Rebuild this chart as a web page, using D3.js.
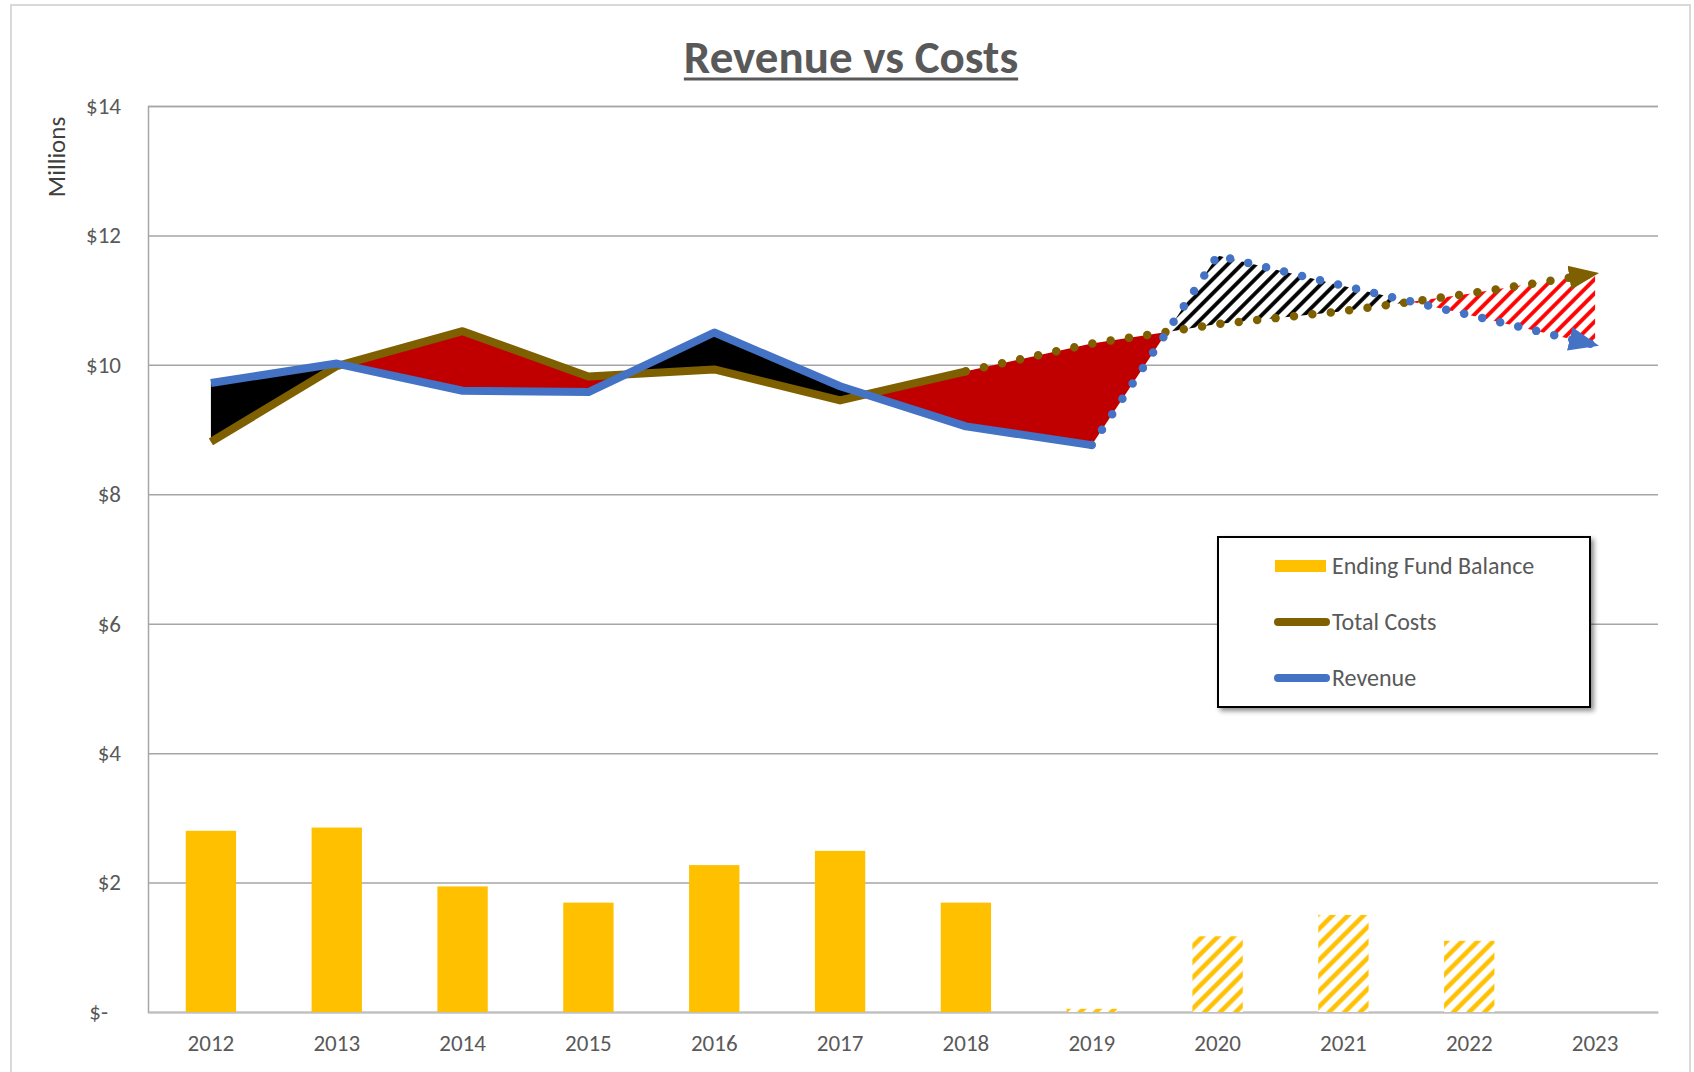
<!DOCTYPE html>
<html>
<head>
<meta charset="utf-8">
<script src="https://cdn.jsdelivr.net/npm/d3@7"></script>
<style>
  body { margin: 0; background: #fff; }
  text { font-family: Carlito, Lato, sans-serif; }
</style>
</head>
<body>
<script>
// values (millions of $)
var years = ["2012", "2013", "2014", "2015", "2016", "2017", "2018", "2019", "2020", "2021", "2022", "2023"];
var fundBalance = [2.80, 2.85, 1.94, 1.69, 2.27, 2.49, 1.69, 0.05, 1.17, 1.50, 1.10, 0];
var totalCosts = [8.81, 9.98, 10.52, 9.82, 9.93, 9.45, 9.90, 10.33, 10.63, 10.83, 11.10, 11.41];
var revenue = [9.72, 10.02, 9.60, 9.58, 10.50, 9.67, 9.05, 8.76, 11.69, 11.22, 10.77, 10.31];
var yTicks = [0, 2, 4, 6, 8, 10, 12, 14];
var lastActualCost = "2018";      // costs dotted (projected) after this
var lastActualRevenue = "2019";   // revenue dotted after this
var lastActualBalance = "2018";   // hatched bars after this

var W = 1694, H = 1072;
var plotL = 148, plotR = 1658, plotT = 106, plotB = 1012;

var svg = d3.select("body").append("svg")
    .attr("width", W)
    .attr("height", H);

var defs = svg.append("defs");

function hatch(id, color, size, sw) {
    var p = defs.append("pattern")
        .attr("id", id)
        .attr("patternUnits", "userSpaceOnUse")
        .attr("width", size)
        .attr("height", size)
        .attr("patternTransform", "rotate(45)");
    p.append("rect").attr("width", size).attr("height", size).attr("fill", "#fff");
    p.append("line")
        .attr("x1", size / 2).attr("x2", size / 2)
        .attr("y1", 0).attr("y2", size)
        .attr("stroke", color)
        .attr("stroke-width", sw);
}
hatch("hatchYellow", "#FFC000", 11, 4.5);
hatch("hatchBlack", "#000", 10, 3.8);
hatch("hatchRed", "#FF0000", 10, 3.8);

function arrow(id, color) {
    defs.append("marker")
        .attr("id", id)
        .attr("markerUnits", "userSpaceOnUse")
        .attr("markerWidth", 32)
        .attr("markerHeight", 26)
        .attr("refX", 26)
        .attr("refY", 13)
        .attr("orient", "auto")
        .append("path")
        .attr("d", "M0,1 L30,13 L0,25 Z")
        .attr("fill", color);
}
arrow("arrowCost", "#7F6000");
arrow("arrowRev", "#4472C4");

var shadow = defs.append("filter").attr("id", "shadow")
    .attr("x", "-10%").attr("y", "-10%").attr("width", "130%").attr("height", "130%");
shadow.append("feDropShadow")
    .attr("dx", 3).attr("dy", 3).attr("stdDeviation", 2.5)
    .attr("flood-color", "#000").attr("flood-opacity", 0.45);

// chart frame
svg.append("rect")
    .attr("x", 11).attr("y", 5)
    .attr("width", W - 15).attr("height", H)
    .attr("fill", "#fff")
    .attr("stroke", "#D9D9D9")
    .attr("stroke-width", 2);

var x = d3.scaleBand().domain(years).range([plotL, plotR]).padding(0);
var bw = x.bandwidth();
var xi = d3.scaleLinear().domain([0, years.length - 1])
    .range([x(years[0]) + bw / 2, x(years[years.length - 1]) + bw / 2]);
var y = d3.scaleLinear().domain([0, 14]).range([plotB, plotT]);

// y axis + gridlines
var yAxis = svg.append("g")
    .attr("transform", "translate(" + plotL + ",0)")
    .call(d3.axisLeft(y)
        .tickValues(yTicks)
        .tickSize(-(plotR - plotL))
        .tickPadding(27)
        .tickFormat(function(d) { return d === 0 ? "$-" : "$" + d; }));
yAxis.select(".domain").attr("stroke", "#A6A6A6").attr("stroke-width", 1.5);
yAxis.selectAll(".tick line").attr("stroke", "#A6A6A6").attr("stroke-width", 1.5);
yAxis.selectAll(".tick text")
    .attr("fill", "#595959")
    .style("font-size", "23px")
    .attr("dx", function(d) { return d === 0 ? -13 : 0; });

// x axis
var xAxis = svg.append("g")
    .attr("transform", "translate(0," + plotB + ")")
    .call(d3.axisBottom(x).tickSize(0).tickPadding(23));
xAxis.select(".domain").attr("stroke", "#BFBFBF").attr("stroke-width", 1.5);
xAxis.selectAll(".tick text")
    .attr("fill", "#595959")
    .style("font-size", "23px");

svg.append("text")
    .attr("transform", "translate(65,157) rotate(-90)")
    .attr("text-anchor", "middle")
    .attr("fill", "#404040")
    .style("font-size", "25px")
    .text("Millions");

// bars
var balIdx = years.indexOf(lastActualBalance);
svg.append("g").selectAll("rect")
    .data(fundBalance)
    .enter()
    .append("rect")
    .attr("x", function(d, i) { return x(years[i]) + bw * 0.3; })
    .attr("width", bw * 0.4)
    .attr("y", function(d) { return y(d); })
    .attr("height", function(d) { return y(0) - y(d); })
    .attr("fill", function(d, i) { return i > balIdx ? "url(#hatchYellow)" : "#FFC000"; });

// fills between revenue and costs, split where they cross
var polys = [];
var cur = {sign: Math.sign(revenue[0] - totalCosts[0]), pts: [{i: 0, r: revenue[0], c: totalCosts[0]}]};
for (var i = 0; i < years.length - 1; i++) {
    var d0 = revenue[i] - totalCosts[i], d1 = revenue[i + 1] - totalCosts[i + 1];
    if (d0 * d1 < 0) {
        var t = d0 / (d0 - d1);
        var v = revenue[i] + t * (revenue[i + 1] - revenue[i]);
        var p = {i: i + t, r: v, c: v};
        cur.pts.push(p);
        polys.push(cur);
        cur = {sign: Math.sign(d1), pts: [p]};
    }
    cur.pts.push({i: i + 1, r: revenue[i + 1], c: totalCosts[i + 1]});
}
polys.push(cur);

var revIdx = years.indexOf(lastActualRevenue);
var area = d3.area()
    .x(function(d) { return xi(d.i); })
    .y0(function(d) { return y(d.c); })
    .y1(function(d) { return y(d.r); });

svg.append("g").selectAll("path")
    .data(polys)
    .enter()
    .append("path")
    .attr("d", function(d) { return area(d.pts); })
    .attr("fill", function(d) {
        var projected = d.pts[0].i >= revIdx;
        if (d.sign > 0) return projected ? "url(#hatchBlack)" : "#000";
        return projected ? "url(#hatchRed)" : "#C00000";
    });

// lines
var line = d3.line()
    .x(function(d) { return xi(d.i); })
    .y(function(d) { return y(d.v); });

function series(vals, from, to) {
    var out = [];
    for (var k = from; k <= to; k++) out.push({i: k, v: vals[k]});
    return out;
}
var costIdx = years.indexOf(lastActualCost);
var last = years.length - 1;

svg.append("path")
    .attr("d", line(series(totalCosts, costIdx, last)))
    .attr("fill", "none")
    .attr("stroke", "#7F6000")
    .attr("stroke-width", 8.5)
    .attr("stroke-linecap", "round")
    .attr("stroke-dasharray", "0 18.5")
    .attr("marker-end", "url(#arrowCost)");

svg.append("path")
    .attr("d", line(series(revenue, revIdx, last)))
    .attr("fill", "none")
    .attr("stroke", "#4472C4")
    .attr("stroke-width", 8.5)
    .attr("stroke-linecap", "round")
    .attr("stroke-dasharray", "0 18.5")
    .attr("marker-end", "url(#arrowRev)");

svg.append("path")
    .attr("d", line(series(totalCosts, 0, costIdx)))
    .attr("fill", "none")
    .attr("stroke", "#7F6000")
    .attr("stroke-width", 8)
    .attr("stroke-linejoin", "round");

svg.append("path")
    .attr("d", line(series(revenue, 0, revIdx)))
    .attr("fill", "none")
    .attr("stroke", "#4472C4")
    .attr("stroke-width", 8)
    .attr("stroke-linejoin", "round");

// title
var title = svg.append("text")
    .attr("x", 851)
    .attr("y", 73)
    .attr("text-anchor", "middle")
    .attr("fill", "#595959")
    .style("font-size", "47px")
    .style("font-weight", "bold")
    .text("Revenue vs Costs");
var tw = title.node().getComputedTextLength();
svg.append("line")
    .attr("x1", 851 - tw / 2).attr("x2", 851 + tw / 2)
    .attr("y1", 79).attr("y2", 79)
    .attr("stroke", "#595959")
    .attr("stroke-width", 3);

// legend
var lg = svg.append("g").attr("transform", "translate(1218,537)");
lg.append("rect")
    .attr("width", 372).attr("height", 170)
    .attr("fill", "#fff")
    .attr("stroke", "#000")
    .attr("stroke-width", 2)
    .attr("filter", "url(#shadow)");

var legendItems = [
    {name: "Ending Fund Balance", color: "#FFC000", kind: "bar"},
    {name: "Total Costs", color: "#7F6000", kind: "line"},
    {name: "Revenue", color: "#4472C4", kind: "line"}
];
var li = lg.selectAll(".item")
    .data(legendItems)
    .enter()
    .append("g")
    .attr("class", "item")
    .attr("transform", function(d, i) { return "translate(0," + (29 + i * 56) + ")"; });
li.filter(function(d) { return d.kind === "bar"; })
    .append("rect")
    .attr("x", 57).attr("y", -6)
    .attr("width", 51).attr("height", 12)
    .attr("fill", function(d) { return d.color; });
li.filter(function(d) { return d.kind === "line"; })
    .append("line")
    .attr("x1", 60).attr("x2", 108)
    .attr("stroke", function(d) { return d.color; })
    .attr("stroke-width", 8)
    .attr("stroke-linecap", "round");
li.append("text")
    .attr("x", 114)
    .attr("y", 8)
    .attr("fill", "#595959")
    .style("font-size", "24px")
    .text(function(d) { return d.name; });
</script>
</body>
</html>
